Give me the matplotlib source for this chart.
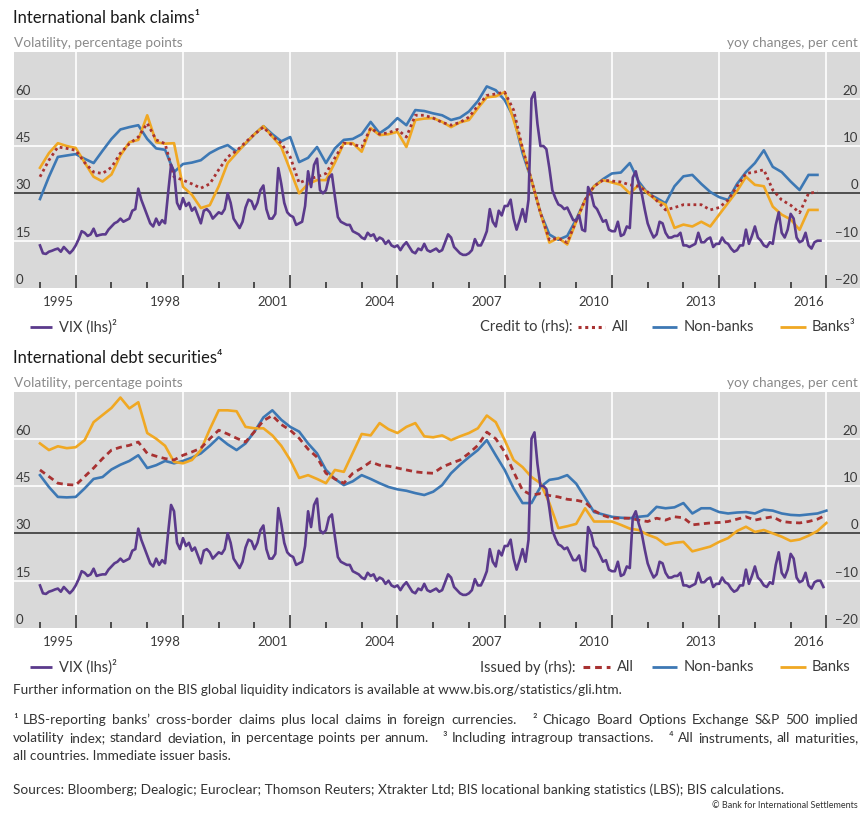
import numpy as np
import matplotlib.pyplot as plt
from matplotlib.lines import Line2D
from matplotlib.transforms import blended_transform_factory

plt.rcParams['font.family'] = ['Lato', 'DejaVu Sans']

W, H = 861, 816

# VIX, monthly, Jan 1995 - Dec 2016 (lhs)
vix = [
    13.5, 11, 10.8, 11.5, 11.8, 12.2, 12.5, 11.5, 13, 12, 11, 12,
    13.5, 15.5, 18, 17.5, 16.5, 17, 18.8, 16.5, 16.8, 17, 17, 18.5,
    19.5, 20.5, 21, 22, 21, 21.5, 22, 24.5, 25, 31.5, 28, 25.5,
    23, 20.5, 19.5, 22, 20, 21.5, 20.5, 30, 39, 37, 27, 25,
    28.5, 26, 27, 24.5, 25.5, 23, 20.5, 24.5, 25, 24, 22, 23,
    24, 23.5, 25, 30, 27, 22, 20.5, 19, 21, 25.5, 28, 27.5,
    25, 27, 31, 32.5, 25, 22, 22, 23.5, 38, 33, 27, 24,
    23, 22.5, 20, 20.5, 21, 26, 37, 32, 39, 41, 31, 30,
    31, 35, 36, 29, 22.5, 21, 20.5, 20, 20, 18, 17.5, 17,
    16, 15.5, 17.5, 16.5, 17, 15, 16, 15.5, 14, 15, 13.5, 13,
    13.5, 12, 13.5, 14.5, 13, 11.5, 11, 12.5, 12, 14, 12, 11.5,
    12, 12.5, 11.5, 12, 14.5, 17, 16, 13, 12, 11, 10.5, 10.5,
    11, 12, 15.5, 13.5, 13.5, 15.5, 18, 25, 21, 19.5, 24.5, 23,
    26, 26, 28, 22, 18.5, 21.5, 25, 21, 28, 60, 62, 52,
    45, 45, 44, 38, 31, 28.5, 26.5, 26, 25, 25.5, 23.5, 21.5,
    21.5, 23, 18.5, 18, 32, 30, 26, 25, 23, 21, 21.5, 18.5,
    18, 18, 21, 16.5, 17, 19.5, 19, 35, 37, 33, 30, 25,
    20.5, 18, 16, 17, 21, 20.5, 17.5, 16, 16, 16.5, 16.5, 17.5,
    13.5, 13.5, 13, 13.5, 14, 17.5, 14.5, 14.5, 15.5, 16, 13, 14,
    14, 16, 14.5, 14, 12.5, 11.5, 12, 13.5, 13.5, 18.5, 14, 16.5,
    19.5, 16, 15, 13.5, 13, 14.5, 14, 20, 24, 17.5, 16, 18.5,
    23.5, 22, 16, 14.5, 15, 17.5, 13.5, 12.5, 14.5, 15, 15, 13,
]

# International bank claims, yoy %, quarterly from 1995 (rhs)
claims_all = [
    3.5, 7.0, 9.8, 9.5, 9.1, 6.5, 4.5, 4.2,
    5.5, 8.5, 10.5, 11.9, 14.8, 11.3, 10.5, 3.5,
    2.8, 2.0, 1.1, 2.0, 5.0, 7.7, 9.0, 10.8,
    12.5, 14.0, 12.0, 10.6, 7.7, 2.2, 3.0, 3.5,
    4.2, 7.5, 10.6, 10.4, 9.8, 13.8, 12.5, 12.8,
    13.5, 11.9, 16.5, 16.5, 15.9, 15.0, 14.4, 15.0,
    16.1, 18.5, 20.7, 21.0, 21.4, 17.6, 9.5, 2.8,
    -4.1, -9.8, -9.5, -10.4, -5.8, -1.4, 1.5, 2.8,
    2.6, 2.4, 1.8, 1.5, 0.3, -1.5, -3.5, -3.0,
    -2.4, -2.4, -2.4, -3.5, -3.0, -1.4, 1.5, 4.2,
    4.5, 5.0, 0.7, -1.4, -2.5, -4.1, 0.0, 0.3,
]
claims_nonbanks = [
    -1.2, 3.5, 7.7, 8.0, 8.3, 7.3, 6.4, 9.0,
    11.5, 13.5, 14.0, 14.4, 11.5, 9.5, 9.2, 4.5,
    6.2, 6.5, 7.0, 8.5, 9.5, 10.2, 8.8, 10.5,
    12.5, 14.2, 12.5, 11.0, 11.9, 6.6, 7.5, 9.8,
    6.4, 9.5, 11.3, 11.5, 12.5, 15.1, 12.7, 14.0,
    15.9, 14.4, 17.6, 17.4, 16.9, 16.5, 15.5, 16.0,
    17.3, 19.5, 22.6, 21.8, 19.7, 16.1, 8.5, 2.8,
    -4.1, -8.7, -9.8, -9.0, -5.5, -1.4, 1.5, 3.0,
    4.2, 4.4, 6.4, 2.5, 0.0, -1.0, -2.1, 1.5,
    3.6, 3.9, 2.0, 0.3, -0.8, -1.4, 2.0, 4.5,
    6.4, 9.1, 5.6, 4.5, 2.5, 0.7, 3.9, 3.9,
]
claims_banks = [
    5.4, 8.5, 10.6, 10.0, 9.6, 6.5, 3.5, 2.5,
    4.0, 8.0, 10.8, 11.3, 16.5, 10.8, 10.5, 10.6,
    1.4, -0.3, -3.1, -2.5, 1.5, 6.4, 8.5, 10.6,
    12.5, 14.2, 12.0, 9.8, 4.9, 0.0, 2.0, 2.8,
    2.8, 6.5, 10.6, 10.6, 8.8, 13.8, 12.3, 12.5,
    13.0, 9.8, 15.5, 15.8, 15.9, 15.1, 14.0, 15.0,
    15.5, 18.0, 20.3, 20.5, 21.4, 15.5, 9.5, 2.8,
    -4.1, -10.4, -9.4, -10.8, -6.0, -1.4, 1.5, 2.8,
    2.3, 1.8, 0.0, 1.8, 0.0, -1.5, -2.4, -7.3,
    -6.6, -7.0, -6.0, -7.0, -4.5, -2.0, 0.5, 3.5,
    1.8, 1.5, -2.8, -4.5, -5.5, -7.7, -3.5, -3.5,
]

# International debt securities, yoy %, quarterly from 1995 (rhs)
debt_all = [
    13.4, 12.0, 10.6, 10.3, 10.2, 12.0, 13.8, 15.8,
    17.6, 18.2, 18.6, 19.3, 16.9, 16.3, 15.8, 15.5,
    16.5, 17.2, 18.0, 20.0, 21.8, 21.0, 20.1, 19.3,
    21.5, 23.8, 24.9, 23.0, 21.8, 20.1, 17.8, 16.1,
    12.7, 11.5, 10.6, 12.7, 13.8, 15.1, 14.4, 14.2,
    13.8, 13.4, 13.0, 12.8, 12.7, 14.0, 14.8, 15.5,
    16.9, 18.6, 21.4, 20.0, 17.2, 13.0, 9.1, 8.1,
    8.4, 8.0, 7.7, 7.2, 7.0, 6.6, 4.8, 3.8,
    3.2, 3.2, 3.2, 2.8, 2.5, 3.2, 2.8, 3.5,
    3.3, 1.8, 2.0, 2.2, 2.3, 2.5, 3.0, 3.5,
    2.8, 3.2, 3.5, 2.5, 2.3, 2.2, 2.5, 3.0,
    3.9,
]
debt_nonbanks = [
    12.3, 9.8, 7.7, 7.6, 7.7, 9.5, 11.5, 11.9,
    13.5, 14.5, 15.3, 16.5, 13.8, 14.4, 15.3, 14.8,
    15.3, 16.0, 16.9, 18.5, 20.3, 18.8, 17.6, 19.0,
    21.5, 24.5, 26.0, 24.0, 22.5, 21.5, 19.0, 16.9,
    13.4, 11.5, 10.2, 11.0, 12.3, 11.5, 10.6, 9.8,
    9.3, 9.0, 8.5, 8.1, 8.8, 10.2, 12.7, 14.5,
    16.1, 17.6, 19.7, 16.5, 13.4, 9.5, 6.4, 6.4,
    9.8, 11.3, 11.6, 12.3, 10.5, 7.5, 4.5, 4.0,
    3.5, 3.3, 3.2, 3.5, 3.7, 5.6, 5.3, 5.5,
    6.4, 4.2, 5.3, 5.3, 4.5, 4.2, 4.4, 4.5,
    4.2, 5.0, 4.8, 4.2, 3.9, 3.8, 4.0, 4.2,
    4.8,
]
debt_banks = [
    19.0, 17.6, 18.4, 18.0, 18.2, 19.7, 23.5, 25.0,
    26.5, 28.7, 26.4, 27.7, 21.2, 20.0, 18.5, 15.1,
    14.8, 15.5, 17.6, 22.0, 26.0, 26.0, 25.8, 22.5,
    22.2, 22.2, 20.7, 18.5, 15.5, 11.7, 12.3, 11.5,
    10.6, 13.4, 13.0, 17.0, 21.0, 20.7, 23.3, 22.0,
    21.2, 22.5, 23.3, 20.5, 20.3, 20.7, 19.7, 20.5,
    21.2, 22.2, 24.9, 23.5, 19.7, 15.5, 14.0, 11.9,
    10.6, 6.4, 1.1, 1.5, 2.0, 5.3, 2.5, 2.5,
    2.5, 1.8, 1.0, 0.7, -0.3, -1.0, -2.4, -2.0,
    -1.8, -3.8, -3.3, -2.8, -1.8, -1.0, 0.5, 1.4,
    0.3, 0.7, 0.0, -0.7, -1.6, -1.3, -0.5, 0.5,
    2.2,
]

label_years = [1995, 1998, 2001, 2004, 2007, 2010, 2013, 2016]
left_ticks = [0, 15, 30, 45, 60]
right_ticks = [-20, -10, 0, 10, 20]

BG = '#d9d9d9'
C_VIX = '#5b3a8c'
C_NB = '#3d78b4'
C_BK = '#f0a823'
C_ALL = '#a83232'
TXT = '#3a3a3a'
GREY = '#8a8a8a'
LEG_FS = 10.5
FOOT_FS = 9.8


def fx(px):
    return px / W


def fy(py):
    return 1 - py / H


def key(x0, x1, y, color, ls='-', lw=2.0):
    fig.add_artist(Line2D([fx(x0), fx(x1)], [fy(y), fy(y)], transform=fig.transFigure,
                          color=color, lw=lw, ls=ls, solid_capstyle='butt'))


def panel(top, title, vix_vals, all_vals, nb_vals, bk_vals, all_ls, lead, banks_lbl, all_x):
    ax = fig.add_axes([fx(14), fy(top + 236), fx(846), 236 / H])
    axr = ax.twinx()
    ax.set_zorder(axr.get_zorder() + 1)
    ax.patch.set_visible(False)
    axr.patch.set_visible(True)
    axr.set_facecolor(BG)

    ax.set_xlim(1994.273, 2017.94)
    ax.set_ylim(0, 74.8)
    axr.set_ylim(-20, 29.87)

    for v in [-10, 10, 20]:
        axr.axhline(v, color='white', lw=1.2, zorder=1)
    for yr in range(1996, 2018, 3):
        axr.axvline(yr, color='white', lw=1.2, zorder=1)
    axr.axhline(0, color='#2a2a2a', lw=1.1, zorder=2)

    qx = 1995 + 0.25 * np.arange(len(all_vals))
    axr.plot(qx, nb_vals, color=C_NB, lw=1.9, zorder=3)
    axr.plot(qx, bk_vals, color=C_BK, lw=1.9, zorder=3)
    axr.plot(qx, all_vals, color=C_ALL, lw=2.0, ls=all_ls, zorder=4)

    mx = 1995 + np.arange(len(vix_vals)) / 12
    ax.plot(mx, vix_vals, color=C_VIX, lw=1.9, zorder=5)

    for a in (ax, axr):
        for s in a.spines.values():
            s.set_visible(False)
        a.set_yticks([])
    ax.set_xticks(list(range(1996, 2018, 3)))
    ax.set_xticks([y for y in range(1995, 2017) if (y - 1996) % 3], minor=True)
    ax.tick_params(axis='x', which='major', direction='in', length=9.5, width=1.2,
                   color='#333333', labelbottom=False)
    ax.tick_params(axis='x', which='minor', direction='in', length=4.3, width=1.2,
                   color='#333333')

    tb = blended_transform_factory(ax.transData, ax.transAxes)
    for yr in label_years:
        ax.text(yr + 0.5, -0.06, str(yr), transform=tb, ha='center', va='center',
                fontsize=9.5, color=TXT)
    for v in left_ticks:
        ax.annotate(str(v), (0, v), xycoords=('axes fraction', 'data'),
                    xytext=(1, 1.5), textcoords='offset points', ha='left', va='bottom',
                    fontsize=9.5, color=TXT)
    for v in right_ticks:
        axr.annotate(str(v).replace('-', '\u2212'), (1, v), xycoords=('axes fraction', 'data'),
                     xytext=(-1.5, 1.5), textcoords='offset points', ha='right', va='bottom',
                     fontsize=9.5, color=TXT)

    fig.text(fx(13), fy(top - 34), title, fontsize=12, color='#1a1a1a', va='center')
    fig.text(fx(14), fy(top - 9), 'Volatility, percentage points', fontsize=9.8,
             color=GREY, va='center')
    fig.text(fx(858), fy(top - 9), 'yoy changes, per cent', fontsize=9.8,
             color=GREY, va='center', ha='right')

    ly = top + 275
    key(30, 52, ly, C_VIX)
    fig.text(fx(59), fy(ly), 'VIX (lhs)\u00b2', fontsize=LEG_FS, color=TXT, va='center')
    fig.text(fx(480), fy(ly), lead, fontsize=LEG_FS, color=TXT, va='center')
    key(all_x, all_x + 27, ly, C_ALL, ls=all_ls, lw=2.2)
    fig.text(fx(all_x + 34), fy(ly), 'All', fontsize=LEG_FS, color=TXT, va='center')
    key(652, 677, ly, C_NB)
    fig.text(fx(684), fy(ly), 'Non-banks', fontsize=LEG_FS, color=TXT, va='center')
    key(780, 806, ly, C_BK)
    fig.text(fx(812), fy(ly), banks_lbl, fontsize=LEG_FS, color=TXT, va='center')


def justified(y, text, x0=13, x1=858):
    # words split on single spaces; '|' marks the wider gap between footnotes
    renderer = fig.canvas.get_renderer()
    parts = text.split(' ')
    words, weights = [], []
    for p in parts:
        if p == '|':
            weights[-1] = 3
            continue
        words.append(p)
        weights.append(1)
    weights = weights[:-1]
    widths = []
    for w in words:
        t = fig.text(0, 0, w, fontsize=FOOT_FS)
        widths.append(t.get_window_extent(renderer).width)
        t.remove()
    gap = (x1 - x0 - sum(widths)) / sum(weights)
    x = x0
    for i, w in enumerate(words):
        fig.text(fx(x), fy(y), w, fontsize=FOOT_FS, color='#333333', va='center')
        if i < len(weights):
            x += widths[i] + gap * weights[i]


fig = plt.figure(figsize=(W / 100, H / 100), dpi=100)

panel(52, 'International bank claims\u00b9', vix[:-1], claims_all, claims_nonbanks,
      claims_banks, (0, (1.0, 1.2)), 'Credit to (rhs):', 'Banks\u00b3', 578)
panel(392, 'International debt securities\u2074', vix, debt_all, debt_nonbanks,
      debt_banks, (0, (2.2, 1.6)), 'Issued by (rhs):', 'Banks', 583)

fig.text(fx(13), fy(690), 'Further information on the BIS global liquidity indicators '
         'is available at www.bis.org/statistics/gli.htm.', fontsize=FOOT_FS,
         color='#333333', va='center')
justified(720, '\u00b9 LBS-reporting banks\u2019 cross-border claims plus local claims in '
          'foreign currencies. | \u00b2 Chicago Board Options Exchange S&P 500 implied')
justified(738, 'volatility index; standard deviation, in percentage points per annum. | '
          '\u00b3 Including intragroup transactions. | \u2074 All instruments, all maturities,')
fig.text(fx(13), fy(756), 'all countries. Immediate issuer basis.', fontsize=FOOT_FS,
         color='#333333', va='center')
fig.text(fx(13), fy(790), 'Sources: Bloomberg; Dealogic; Euroclear; Thomson Reuters; '
         'Xtrakter Ltd; BIS locational banking statistics (LBS); BIS calculations.',
         fontsize=FOOT_FS, color='#333333', va='center')
fig.text(fx(858), fy(805), '\u00a9 Bank for International Settlements', fontsize=6.5,
         color='#333333', va='center', ha='right')

fig.savefig('out.png', dpi=100, facecolor='white')
